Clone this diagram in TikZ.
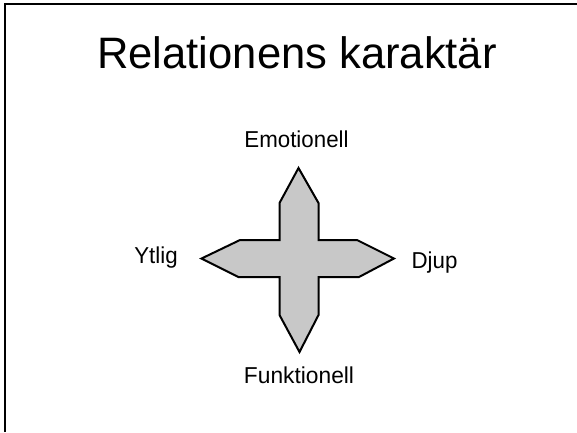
\documentclass[tikz,border=0pt]{standalone}
\usepackage{fontspec}
\setmainfont{Liberation Sans}
\definecolor{crossfill}{RGB}{200,200,200}
\begin{document}
\begin{tikzpicture}[x=1pt,y=-1pt,
  lbl/.style={anchor=base,inner sep=0pt,xscale=0.97,font=\fontsize{23}{25}\selectfont},
  ttl/.style={anchor=base,inner sep=0pt,font=\fontsize{44}{48}\selectfont},
  crossshape/.style={fill=crossfill,draw=black,line width=2pt,line join=miter}]
\useasboundingbox (0,0) rectangle (577,432);
\draw[line width=1.5pt] (5,432) -- (5,4) -- (577,4);
\node[ttl,xscale=0.99] (title) at (297,68) {Relationens karaktär};
\draw[crossshape] (298.5,168) -- (318.5,203) -- (318.5,240) -- (357,240) -- (394,258.5)
  -- (359,277) -- (318.5,277) -- (318.5,315) -- (299.5,352) -- (279.5,315)
  -- (279.5,277) -- (238.5,277) -- (201.5,258.5) -- (240,240) -- (279.5,240)
  -- (279.5,203) -- cycle;
\node[lbl] (emo) at (296.5,147.5) {Emotionell};
\node[lbl] (ytlig) at (156,263.5) {Ytlig};
\node[lbl] (djup) at (434.5,268) {Djup};
\node[lbl,xscale=1.02] (funk) at (299,383.5) {Funktionell};
\end{tikzpicture}
\end{document}
